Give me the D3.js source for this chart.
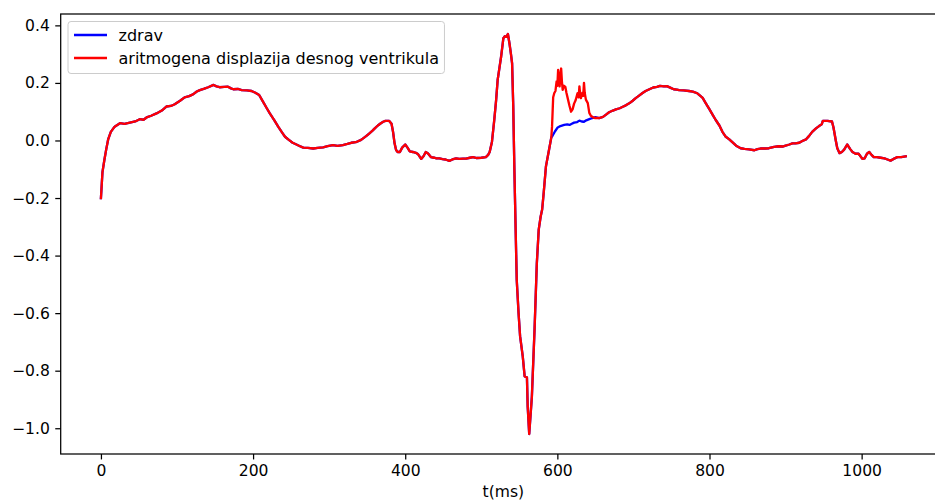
<!DOCTYPE html>
<html>
<head>
<meta charset="utf-8">
<script src="https://cdn.jsdelivr.net/npm/d3@7"></script>
<style>
  body { margin: 0; background: #fff; }
  text { font-family: "DejaVu Sans", sans-serif; }
</style>
</head>
<body>
<script>
// healthy ECG beat (zdrav), t in ms
var tMs = [0, 2, 4.5, 7, 9.6, 13, 18, 25, 31, 38, 45, 51, 56, 60, 66, 73, 80, 86, 92, 97,
  104, 110, 116, 121, 126, 130, 136, 141, 148, 152, 156, 162, 167, 171, 174, 180, 185, 192, 198, 203,
  208, 213, 218, 222, 228, 233, 238, 242, 247, 252, 257, 261, 266, 272, 279, 285, 292, 298, 305, 311,
  318, 324, 329, 335, 342, 346, 349, 353, 357, 360, 364, 368, 371, 374, 379, 382, 384, 386, 388, 390,
  393, 396, 400, 403, 406, 410, 414, 417, 421, 424, 427, 430, 434, 438, 441, 445, 449, 453, 458, 462,
  467, 471, 476, 480, 485, 489, 494, 500, 506, 509, 511, 514, 517, 519.5, 521.5, 524, 526, 529, 531, 533,
  535, 537, 539, 540.5, 542, 543.5, 545, 546.6, 549, 551, 554.5, 557, 560, 561, 563, 566.5, 570, 573, 575.5, 578,
  580, 582, 585, 589, 592, 594, 597, 600, 604, 609, 613, 616, 619, 622, 626, 629, 632, 635, 638, 642,
  646, 650, 655, 660, 664, 668, 673, 677, 682, 686, 690, 694.5, 699, 703, 707, 712, 716, 721, 726, 731,
  735, 740, 744, 749, 753, 757, 760, 766, 773, 778, 784, 788, 791, 795, 800, 804, 808, 813, 817, 821,
  826, 830, 835, 841, 846, 852, 859, 863, 867, 873, 878, 885, 891, 896, 900, 905, 909, 913, 918, 922,
  927, 931, 935, 940, 944, 947.5, 949, 955, 961, 963, 966, 968, 971, 974, 977, 981, 985, 988, 992, 996,
  1001, 1004, 1007, 1010, 1013, 1016, 1020, 1025, 1030, 1034, 1038, 1042, 1047, 1052, 1058];

var zdrav = [-0.200, -0.110, -0.068, -0.030, 0.005, 0.030, 0.048, 0.060, 0.058, 0.062, 0.066, 0.074, 0.072, 0.080, 0.086, 0.094, 0.104, 0.118, 0.120, 0.126,
  0.138, 0.150, 0.154, 0.160, 0.170, 0.175, 0.180, 0.185, 0.193, 0.188, 0.185, 0.186, 0.187, 0.181, 0.178, 0.179, 0.175, 0.174, 0.172, 0.166,
  0.158, 0.135, 0.112, 0.094, 0.070, 0.048, 0.028, 0.013, 0.002, -0.008, -0.014, -0.019, -0.025, -0.026, -0.028, -0.026, -0.024, -0.020, -0.016, -0.019,
  -0.016, -0.012, -0.008, -0.006, 0.002, 0.010, 0.016, 0.025, 0.034, 0.042, 0.052, 0.060, 0.065, 0.068, 0.068, 0.058, 0.030, -0.010, -0.033, -0.040,
  -0.040, -0.025, -0.014, -0.025, -0.038, -0.040, -0.043, -0.048, -0.064, -0.055, -0.040, -0.045, -0.058, -0.060, -0.062, -0.062, -0.065, -0.066, -0.071, -0.066,
  -0.062, -0.064, -0.063, -0.063, -0.060, -0.058, -0.061, -0.060, -0.058, -0.050, -0.040, -0.005, 0.070, 0.140, 0.210, 0.255, 0.290, 0.355, 0.362, 0.360,
  0.370, 0.338, 0.300, 0.268, 0.120, -0.100, -0.290, -0.485, -0.600, -0.680, -0.750, -0.820, -0.823, -0.925, -1.020, -0.890, -0.658, -0.427, -0.310, -0.265,
  -0.240, -0.183, -0.090, -0.033, 0.010, 0.018, 0.032, 0.044, 0.050, 0.054, 0.056, 0.054, 0.058, 0.062, 0.064, 0.069, 0.066, 0.065, 0.070, 0.074,
  0.078, 0.081, 0.078, 0.082, 0.090, 0.098, 0.104, 0.108, 0.112, 0.117, 0.122, 0.129, 0.138, 0.147, 0.155, 0.165, 0.172, 0.178, 0.184, 0.186,
  0.190, 0.188, 0.189, 0.183, 0.178, 0.177, 0.175, 0.174, 0.172, 0.170, 0.164, 0.155, 0.148, 0.130, 0.108, 0.090, 0.072, 0.052, 0.030, 0.014,
  0.004, -0.006, -0.018, -0.027, -0.029, -0.031, -0.034, -0.030, -0.028, -0.028, -0.027, -0.022, -0.020, -0.021, -0.018, -0.014, -0.010, -0.010, -0.008, -0.002,
  0.004, 0.016, 0.030, 0.042, 0.050, 0.056, 0.068, 0.068, 0.066, 0.045, 0.000, -0.027, -0.044, -0.040, -0.032, -0.014, -0.030, -0.040, -0.046, -0.046,
  -0.064, -0.062, -0.046, -0.040, -0.050, -0.058, -0.058, -0.060, -0.062, -0.066, -0.070, -0.064, -0.058, -0.058, -0.055];

// where the ARVD beat differs from the healthy one
var arvdT = [592, 593, 594.5, 596, 597.5, 599, 600, 601, 602, 603, 604, 605, 606, 607, 608.5, 610.5, 612, 613.5, 616, 618,
  620, 622, 624, 626.5, 628, 629, 630, 631, 632, 633, 634, 635, 636, 637.5, 640, 642, 644, 646.5, 649, 651];
var arvdV = [0.010, 0.048, 0.150, 0.165, 0.172, 0.205, 0.190, 0.245, 0.200, 0.188, 0.232, 0.250, 0.205, 0.176, 0.190, 0.186, 0.165, 0.148, 0.120, 0.100,
  0.108, 0.128, 0.140, 0.164, 0.150, 0.188, 0.160, 0.147, 0.160, 0.166, 0.155, 0.200, 0.165, 0.142, 0.130, 0.096, 0.086, 0.081, 0.078, 0.078];

var seriesNames = ["zdrav", "aritmogena displazija desnog ventrikula"];
var colors = ["#0000ff", "#ff0000"];
var yTicks = [-1.0, -0.8, -0.6, -0.4, -0.2, 0.0, 0.2, 0.4];
var xTicks = [0, 200, 400, 600, 800, 1000];

var width = 935,
  height = 502,
  pt = 112 / 72,            // px per point
  fontSize = 10 * pt;

// axes box (the right spine falls just outside the picture)
var plotLeft = 60.7, plotTop = 14, plotRight = 946, plotBottom = 454;

var healthy = tMs.map(function(t, i) { return [t, zdrav[i]]; });
var arvd = healthy.filter(function(d) {
  return d[0] < arvdT[0] || d[0] > arvdT[arvdT.length - 1];
}).concat(arvdT.map(function(t, i) { return [t, arvdV[i]]; }))
  .sort(function(a, b) { return a[0] - b[0]; });

// matplotlib style 5% margins
var xMin = d3.min(tMs), xMax = d3.max(tMs);
var allV = zdrav.concat(arvdV);
var yMin = d3.min(allV), yMax = d3.max(allV);
var xPad = (xMax - xMin) * 0.05, yPad = (yMax - yMin) * 0.05;

var x = d3.scaleLinear().domain([xMin - xPad, xMax + xPad]).range([plotLeft, plotRight]);
var y = d3.scaleLinear().domain([yMin - yPad, yMax + yPad]).range([plotBottom, plotTop]);

var svg = d3.select("body").append("svg")
  .attr("width", width)
  .attr("height", height);

svg.append("defs").append("clipPath")
  .attr("id", "plot-clip")
  .append("rect")
  .attr("x", plotLeft).attr("y", plotTop)
  .attr("width", plotRight - plotLeft).attr("height", plotBottom - plotTop);

var line = d3.line()
  .x(function(d) { return x(d[0]); })
  .y(function(d) { return y(d[1]); });

var plot = svg.append("g").attr("clip-path", "url(#plot-clip)");

[healthy, arvd].forEach(function(s, i) {
  plot.append("path")
    .datum(s)
    .attr("d", line)
    .style("fill", "none")
    .style("stroke", colors[i])
    .style("stroke-width", (1.5 * pt) + "px")
    .style("stroke-linejoin", "round")
    .style("stroke-linecap", "square");
});

// axes
var tickLen = 3.5 * pt;
var fmtY = function(d) { return d3.format(".1f")(d).replace("-", "\u2212"); };

var xAxis = svg.append("g")
  .attr("transform", "translate(0," + plotBottom + ")")
  .call(d3.axisBottom(x).tickValues(xTicks).tickSize(tickLen).tickPadding(3.5 * pt).tickFormat(d3.format("d")));

var yAxis = svg.append("g")
  .attr("transform", "translate(" + plotLeft + ",0)")
  .call(d3.axisLeft(y).tickValues(yTicks).tickSize(tickLen).tickPadding(3.5 * pt).tickFormat(fmtY));

[xAxis, yAxis].forEach(function(a) {
  a.select(".domain").remove();
  a.selectAll("line").style("stroke", "#000").style("stroke-width", (0.8 * pt) + "px");
  a.selectAll("text")
    .style("font-family", "'DejaVu Sans', sans-serif")
    .style("font-size", fontSize + "px")
    .style("fill", "#000");
});

svg.append("rect")
  .attr("x", plotLeft).attr("y", plotTop)
  .attr("width", plotRight - plotLeft).attr("height", plotBottom - plotTop)
  .style("fill", "none")
  .style("stroke", "#000")
  .style("stroke-width", (0.8 * pt) + "px");

svg.append("text")
  .attr("x", (plotLeft + plotRight) / 2)
  .attr("y", 497)
  .style("text-anchor", "middle")
  .style("font-size", fontSize + "px")
  .text("t(ms)");

// legend
var legend = svg.append("g");

var box = legend.append("rect")
  .attr("x", 68).attr("y", 21.5)
  .attr("height", 52)
  .attr("rx", 3)
  .style("fill", "#fff")
  .style("fill-opacity", 0.8)
  .style("stroke", "#cccccc")
  .style("stroke-width", "1px");

var item = legend.selectAll(".item")
  .data(seriesNames)
  .enter().append("g")
  .attr("class", "item")
  .attr("transform", function(d, i) { return "translate(0," + (35 + i * 23) + ")"; });

item.append("line")
  .attr("x1", 74).attr("x2", 107)
  .style("stroke", function(d, i) { return colors[i]; })
  .style("stroke-width", (1.5 * pt) + "px");

var labels = item.append("text")
  .attr("x", 118.5)
  .attr("dy", "0.35em")
  .style("font-size", "16px")
  .style("fill", "#000")
  .text(function(d) { return d; });

var textEnd = d3.max(labels.nodes(), function(n) { return 118.5 + n.getComputedTextLength(); });
box.attr("width", textEnd + 5.5 - 68);
</script>
</body>
</html>
